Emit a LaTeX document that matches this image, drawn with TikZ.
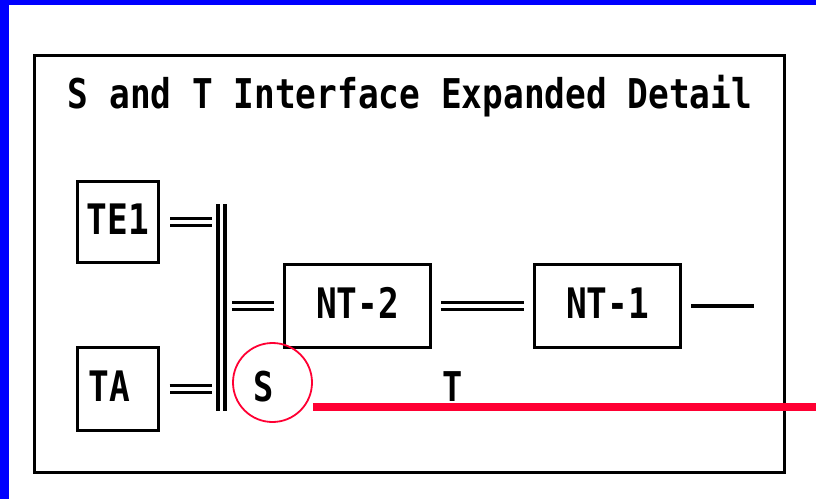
\documentclass[tikz,border=0pt]{standalone}
\usepackage{fontspec}
\setmainfont{DejaVu Sans Mono}
\usepackage{xcolor}
\usepackage{tikz}
\usetikzlibrary{positioning}
\definecolor{edgeblue}{RGB}{0, 0, 255}
\definecolor{markred}{RGB}{255, 0, 51}
\newcommand{\narrowtxt}[2][0.82]{\scalebox{#1}[1]{#2}}

\begin{document}
\begin{tikzpicture}[x=1pt, y=-1pt,
  unit/.style={draw, line width=3pt, rectangle, inner sep=0pt, text depth=6pt, font=\fontsize{42}{48}\selectfont\bfseries},
  pin/.style={font=\fontsize{41}{46}\selectfont\bfseries, inner sep=0pt},
  dbl/.style={draw, line width=3.5pt, double, double distance=3.5pt},
  wire/.style={draw, line width=3.4pt},
  ring/.style={draw=markred, line width=1.8pt, circle, minimum size=79pt, inner sep=0pt},
  refline/.style={draw=markred, line width=8pt}
]
\useasboundingbox (0,0) rectangle (816,499);
\fill[edgeblue] (0,0) rectangle (816,5);
\fill[edgeblue] (0,0) rectangle (9,499);
\draw[line width=3pt] (34.5,55.5) rectangle (784.5,472.5);

\node[font=\fontsize{41}{46}\selectfont\bfseries, anchor=base, inner sep=0pt] (title) at (410,108) {\narrowtxt[0.84]{S and T Interface Expanded Detail}};

\node[unit, minimum width=81pt, minimum height=81pt] (te1) at (118,222) {\narrowtxt{TE1}};
\node[unit, minimum width=81pt, minimum height=83pt, text width=58pt, align=left] (ta) at (117.5,389) {\narrowtxt{TA}};
\node[unit, minimum width=146pt, minimum height=83pt] (nt2) at (357.5,306) {\narrowtxt{NT-2}};
\node[unit, minimum width=146pt, minimum height=83pt] (nt1) at (607.5,306) {\narrowtxt{NT-1}};

\coordinate (bustop) at (221.5,204);
\coordinate (busbot) at (221.5,411);
\coordinate (lineend) at (754,306);
\coordinate (redend) at (816,407);

\draw[dbl] (bustop) -- (busbot);
\draw[dbl, shorten <=10pt, shorten >=9.5pt] (te1.east) -- (te1.east -| bustop);
\draw[dbl, shorten <=10pt, shorten >=9.5pt] (ta.east) -- (ta.east -| bustop);
\draw[dbl, shorten <=10.5pt, shorten >=9pt] (nt2.west -| bustop) -- (nt2.west);
\draw[dbl, shorten <=9pt, shorten >=9pt] (nt2.east) -- (nt1.west);
\draw[wire, shorten <=9pt] (nt1.east) -- (lineend);

\node[ring] (sring) at (272.5,382.5) {};
\node[pin] (slbl) at (263.5,387) {\narrowtxt{S}};
\node[pin] (tlbl) at (452.5,386.5) {\narrowtxt{T}};
\draw[refline] (sring.east |- redend) -- (redend);

\end{tikzpicture}
\end{document}
